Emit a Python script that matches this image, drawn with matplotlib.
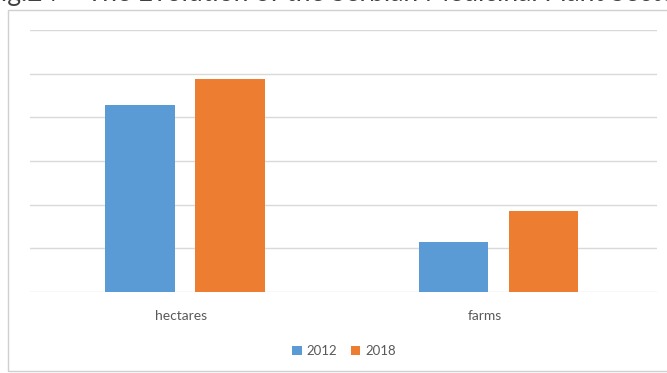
import matplotlib
matplotlib.use("Agg")
import matplotlib.pyplot as plt
import matplotlib.transforms as mtransforms
import numpy as np
from matplotlib.patches import Rectangle

plt.rcParams['font.family'] = ['Lato', 'DejaVu Sans']

categories = ["hectares", "farms"]
series_names = ["2012", "2018"]
values_2012 = [4.28, 1.15]
values_2018 = [4.87, 1.86]
colors = ["#5B9BD5", "#ED7D31"]

W, H = 667, 373
fig = plt.figure(figsize=(W / 100, H / 100), dpi=100)
fig.patch.set_facecolor("white")

# Outer chart frame
frame = Rectangle((8 / W, 2 / H), (W + 20 - 8) / W, (H - 10 - 2) / H,
                  transform=fig.transFigure, fill=False,
                  edgecolor="#D0D0D0", linewidth=1.0)
fig.add_artist(frame)

# Caption line above the frame
fig.text(-14 / W, 1 - 1 / H, "Fig.24 – The Evolution of the Serbian Medicinal Plant Sector",
         fontsize=19, color="#404040", va="baseline", ha="left")

ax = fig.add_axes([30 / W, 1 - 292 / H, 627 / W, 262 / H])
x = np.arange(len(categories))
bw = 0.223
ax.bar(x - 0.149, values_2012, bw, color=colors[0], label=series_names[0], zorder=3)
ax.bar(x + 0.138, values_2018, bw, color=colors[1], label=series_names[1], zorder=3)

ax.set_xlim(-0.5, 1.5)
ax.set_ylim(0, 6)
ax.set_yticks(np.arange(0, 7, 1))
ax.yaxis.grid(True, color="#D9D9D9", linewidth=1.0, zorder=0)
ax.tick_params(axis="y", left=False, labelleft=False)
ax.set_xticks(x)
ax.set_xticklabels(categories, fontsize=10, color="#595959")
ax.tick_params(axis="x", length=0, pad=13)
# category labels sit a little left of the bar-pair centres
for lbl, dx in zip(ax.get_xticklabels(), [-6, -15]):
    lbl.set_transform(lbl.get_transform() +
                      mtransforms.ScaledTranslation(dx / 100, 0, fig.dpi_scale_trans))
for s in ax.spines.values():
    s.set_visible(False)

leg = fig.legend(loc="center", bbox_to_anchor=(344 / W, 1 - 351 / H), ncol=2,
                 frameon=False, fontsize=9.5, handlelength=0.75, handleheight=0.75,
                 handletextpad=0.35, columnspacing=1.0)
for t in leg.get_texts():
    t.set_color("#595959")

fig.savefig("out.png", dpi=100, facecolor="white")
